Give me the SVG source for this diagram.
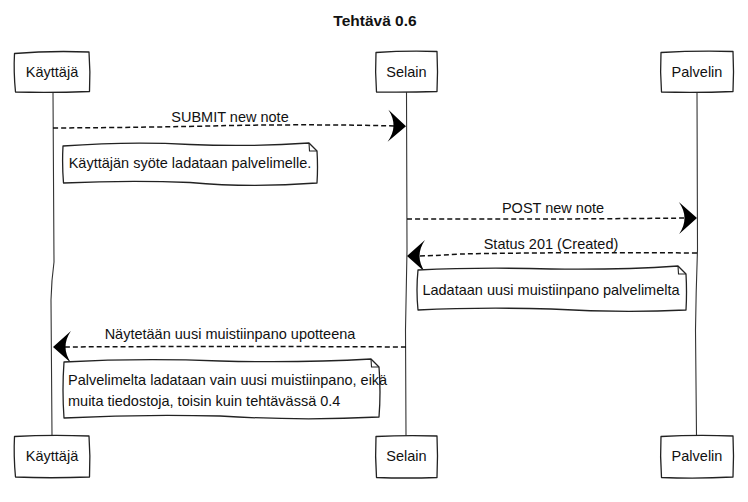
<svg xmlns="http://www.w3.org/2000/svg" width="748" height="502" viewBox="0 0 748 502">
<style>
text{font-family:"Liberation Sans",Arial,sans-serif;font-size:14.5px;fill:#111}
.title{font-weight:bold;font-size:15.5px;text-anchor:middle}
.c{text-anchor:middle}
.box{fill:#fff;stroke:#222;stroke-width:1.3;stroke-linejoin:round}
.life{fill:none;stroke:#333;stroke-width:1.1}
.msg{fill:none;stroke:#111;stroke-width:1.5;stroke-dasharray:5 3}
.fold{fill:none;stroke:#222;stroke-width:1.1}
</style>
<defs>
<marker id="ah" viewBox="-19 -17 21 34" refX="-9" refY="0" markerWidth="21" markerHeight="34" markerUnits="userSpaceOnUse" orient="auto">
<path d="M -18 -16 L 0 0 L -18 16 Q -7 0 -18 -16 Z" fill="#000"/>
</marker>
</defs>
<rect width="748" height="502" fill="#fff"/>
<text class="title" x="375" y="26">Tehtävä 0.6</text>

<g id="lifelines">
<path class="life" d="M53 92 L54 262 Q51.5 280 51 300 L52 436"/>
<path class="life" d="M406.5 92 L407 250 Q406 300 405.5 330 L406 436"/>
<path class="life" d="M697 92 L697.5 250 Q696 290 695.5 330 L696.5 436"/>
</g>

<g id="actor-kayttaja-top">
<path class="box" d="M14.5 53.5 Q50 50.5 89 52 Q90.5 72 89.5 91.5 Q50 93 15.5 92 Q13.5 72 14.5 53.5 Z"/>
<text class="c" x="52" y="77">Käyttäjä</text>
</g>
<g id="actor-selain-top">
<path class="box" d="M376 52.5 Q406 50.5 437 51.5 Q438 72 437 91.5 Q406 92.5 376.5 92 Q375 72 376 52.5 Z"/>
<text class="c" x="406.5" y="77">Selain</text>
</g>
<g id="actor-palvelin-top">
<path class="box" d="M661 52.5 Q697 50.5 733 51.5 Q734 72 733 91.5 Q697 93 661.5 92 Q660 72 661 52.5 Z"/>
<text class="c" x="697" y="77">Palvelin</text>
</g>

<g id="actor-kayttaja-bottom">
<path class="box" d="M14.5 436.5 Q50 434.5 89 436 Q90.5 456 89.5 477 Q50 478.5 15.5 477 Q13.5 456 14.5 436.5 Z"/>
<text class="c" x="52" y="461">Käyttäjä</text>
</g>
<g id="actor-selain-bottom">
<path class="box" d="M376 436.5 Q406 435 437 436 Q438 456 437 477.5 Q406 478.5 376.5 477.5 Q375 456 376 436.5 Z"/>
<text class="c" x="406.5" y="461">Selain</text>
</g>
<g id="actor-palvelin-bottom">
<path class="box" d="M661 436.5 Q697 434.5 733 436 Q734 456 733 477 Q697 479 661.5 477.5 Q660 456 661 436.5 Z"/>
<text class="c" x="697" y="461">Palvelin</text>
</g>

<g id="connectors">
<path class="msg" d="M53 128 Q150 127.5 230 125.5 Q320 124 397 126" marker-end="url(#ah)"/>
<path class="msg" d="M407 219 Q550 219.5 688 218" marker-end="url(#ah)"/>
<path class="msg" d="M697 253 Q560 252 460 254 Q430 256 416 256" marker-end="url(#ah)"/>
<path class="msg" d="M406 347 Q230 346 62 347" marker-end="url(#ah)"/>
</g>

<g id="labels">
<text class="c" x="230" y="122">SUBMIT new note</text>
<text class="c" x="553" y="213">POST new note</text>
<text class="c" x="551" y="249">Status 201 (Created)</text>
<text class="c" x="230" y="339">Näytetään uusi muistiinpano upotteena</text>
</g>

<g id="note-1">
<path class="box" d="M63 146 Q130 141 190 144.5 Q250 147 309 143 L317 151 Q318 167 317 183 Q250 188 190 182.5 Q130 180 63.5 183 Q62 165 63 146 Z"/>
<path class="fold" d="M309 143 L309.5 151 L317 151"/>
<text class="c" x="190" y="168">Käyttäjän syöte ladataan palvelimelle.</text>
</g>

<g id="note-2">
<path class="box" d="M418 270 Q480 267 551 269 Q620 270 678 266 L686 274 Q687 292 686 310 Q620 313 551 309 Q480 307 418 310 Q416 290 418 270 Z"/>
<path class="fold" d="M678 266 L678.5 274 L686 274"/>
<text class="c" x="551" y="295">Ladataan uusi muistiinpano palvelimelta</text>
</g>

<g id="note-3">
<path class="box" d="M64 362 Q140 358 220 361 Q300 363 371 359 L379 367 Q381 392 379 417 Q300 421 220 416 Q140 414 64 418 Q62 390 64 362 Z"/>
<path class="fold" d="M371 359 L371.5 367 L379 367"/>
<text x="68" y="385">Palvelimelta ladataan vain uusi muistiinpano, eikä</text>
<text x="68" y="406">muita tiedostoja, toisin kuin tehtävässä 0.4</text>
</g>
</svg>
